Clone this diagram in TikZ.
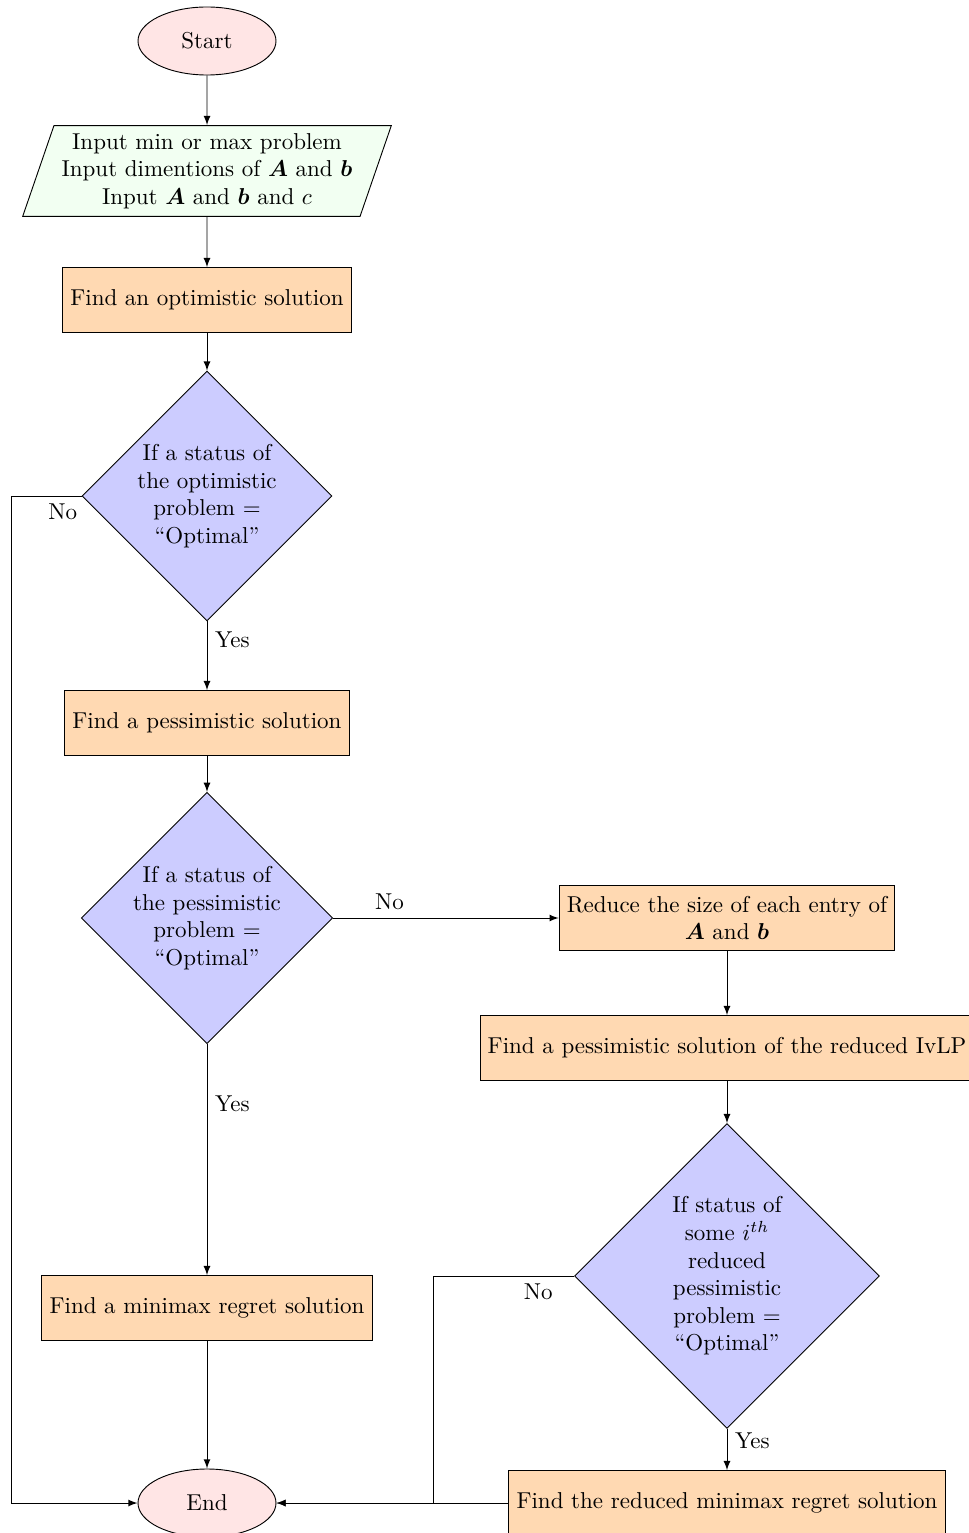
\documentclass[tikz,border=0pt]{standalone}
\usepackage{tikz}
\usepackage{bm}
\usetikzlibrary{calc,shapes.geometric}
\tikzset{
	startstop/.style={ellipse, draw, fill=red!10, minimum width=2.11cm, minimum height=1.04cm},
	io/.style={trapezium, trapezium left angle=71, trapezium right angle=109, trapezium stretches body=true, draw, fill=green!5, minimum width=5.32cm, minimum height=1.38cm, align=center},
	process/.style={rectangle, draw, fill=orange!30, minimum height=0.99cm, align=center},
	decision/.style={diamond, draw, fill=blue!20, aspect=1, inner sep=0pt, align=center},
	arrow/.style={-latex},
}

\begin{document}
\begin{tikzpicture}[x=0.01529cm, y=-0.01529cm]
		%%%%% START %%%%%
		\useasboundingbox (0, 0) rectangle (968, 1533);
		
		\node[startstop] (start) at (207, 41) {Start};
		\node[io] (input) at (207, 171) {Input min or max problem\\ Input dimentions of $\bm{A}$ and $\bm{b}$\\ Input $\bm{A}$ and $\bm{b}$ and $c$};
		\node[process] (opt) at (207, 300) {Find an optimistic solution};
		\node[decision, minimum size=3.82cm] (decopt) at (207, 496) {If a status of\\ the optimistic\\ problem $=$\\ ``Optimal''};
		
		\node[process] (pes) at (207, 723) {Find a pessimistic solution};
		\node[decision, minimum size=3.82cm] (decpes) at (207, 918) {If a status of\\ the pessimistic\\ problem $=$\\ ``Optimal''};
		\node[process] (minreg) at (207, 1308) {Find a minimax regret solution};
		\node[startstop] (stop) at (207, 1503) {End};
		
		\node[process] (reduce) at (727, 918) {Reduce the size of each entry of\\ $\bm{A}$ and $\bm{b}$};
		\node[process] (redpes) at (727, 1048) {Find a pessimistic solution of the reduced IvLP};
		\node[decision, minimum size=4.66cm] (decred) at (727, 1276) {If status of\\ some $i^{th}$\\ reduced\\ pessimistic\\ problem $=$\\ ``Optimal''};
		\node[process] (redreg) at (727, 1503) {Find the reduced minimax regret solution};
		
		\draw[arrow] (start) -- (input);
		\draw[arrow] (input) -- (opt);
		\draw[arrow] (opt) -- (decopt);
		\draw[arrow] (decopt) -- node[pos=0.27, right] {Yes} (pes);
		\draw[arrow] (decopt.west) -- node[pos=0.27, below] {No} ++(-70, 0) |- (stop.west);
		
		\draw[arrow] (pes) -- (decpes);
		\draw[arrow] (decpes) -- node[pos=0.26, right] {Yes} (minreg);
		\draw[arrow] (decpes) -- node[pos=0.25, above] {No} (reduce);
		\draw[arrow] (minreg) -- (stop);
		
		\draw[arrow] (reduce) -- (redpes);
		\draw[arrow] (redpes) -- (decred);
		\draw[arrow] (decred) -- node[pos=0.28, right] {Yes} (redreg);
		\draw[arrow] (decred.west) -- node[pos=0.255, below] {No} ++(-141, 0) |- (stop.east);
		\draw[arrow] (redreg) -- (stop);
		
		%%%%% END %%%%%
	\end{tikzpicture}
\end{document}
